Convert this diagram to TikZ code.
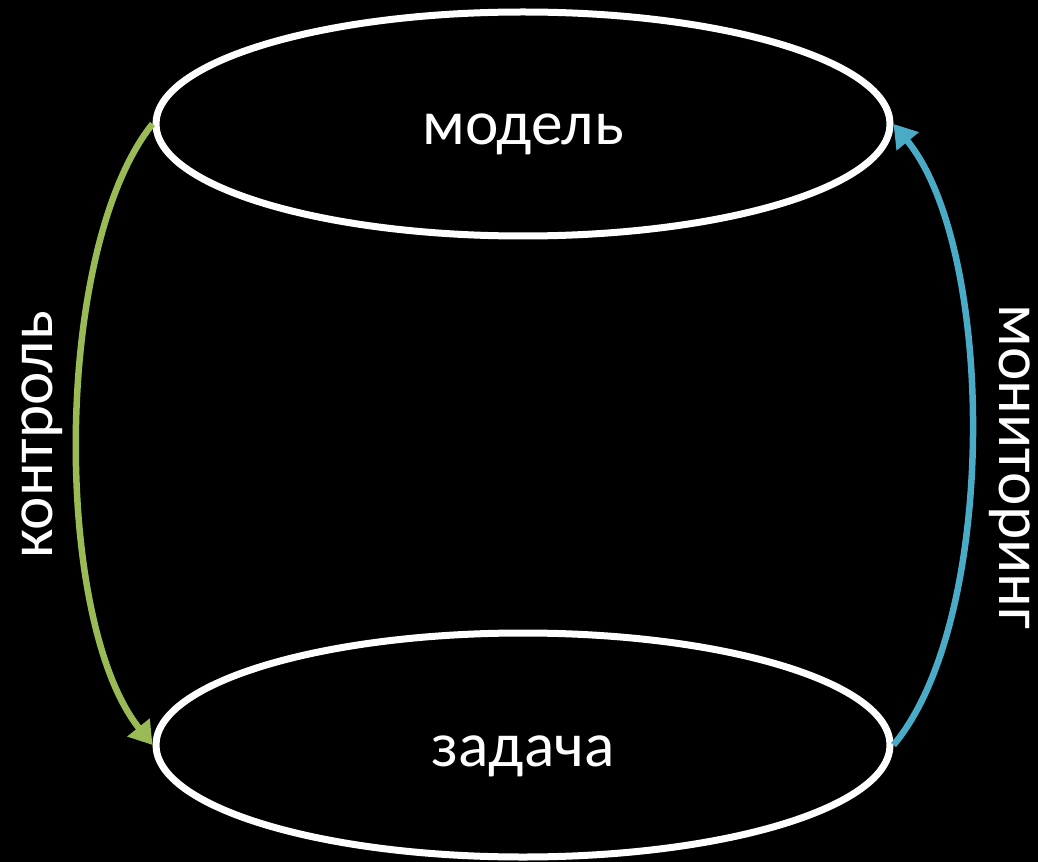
\documentclass[tikz,border=0pt]{standalone}
\usepackage{fontspec}
\setmainfont{Carlito}
\usetikzlibrary{arrows.meta,shapes.geometric}
\definecolor{arrgreen}{rgb}{0.60,0.73,0.33}
\definecolor{arrblue}{rgb}{0.29,0.67,0.78}

\begin{document}
\begin{tikzpicture}[font=\fontsize{36}{40}\selectfont,
   e/.style={draw=white,ellipse,line width=0.14cm,minimum width=14.68cm,
             minimum height=4.48cm,inner sep=0pt,text=white,
             text height=0.84cm,text depth=0pt},
   lbl/.style={text=white,inner sep=0pt},
   arr/.style={line width=0.13cm,-{Triangle[length=0.45cm,width=0.55cm]}}]
  \fill[black] (0,0) rectangle (20.76,-17.24);
  \useasboundingbox (0,0) rectangle (20.76,-17.24);
  \node[e] (mdl) at (10.46,-2.48) {модель};
  \node[e] (zd) at (10.46,-14.9) {задача};
  \node[lbl,rotate=90] (ctl) at (0.84,-8.7) {контроль};
  \node[lbl,rotate=-90] (mon) at (20.2,-9.34) {мониторинг};
  \draw[arr,arrgreen] (mdl.west) .. controls +(-2.0,-2.5) and +(-2.0,2.5) .. (zd.west);
  \draw[arr,arrblue] (zd.east) .. controls +(2.1,2.5) and +(2.05,-2.5) .. (mdl.east);
\end{tikzpicture}
\end{document}
